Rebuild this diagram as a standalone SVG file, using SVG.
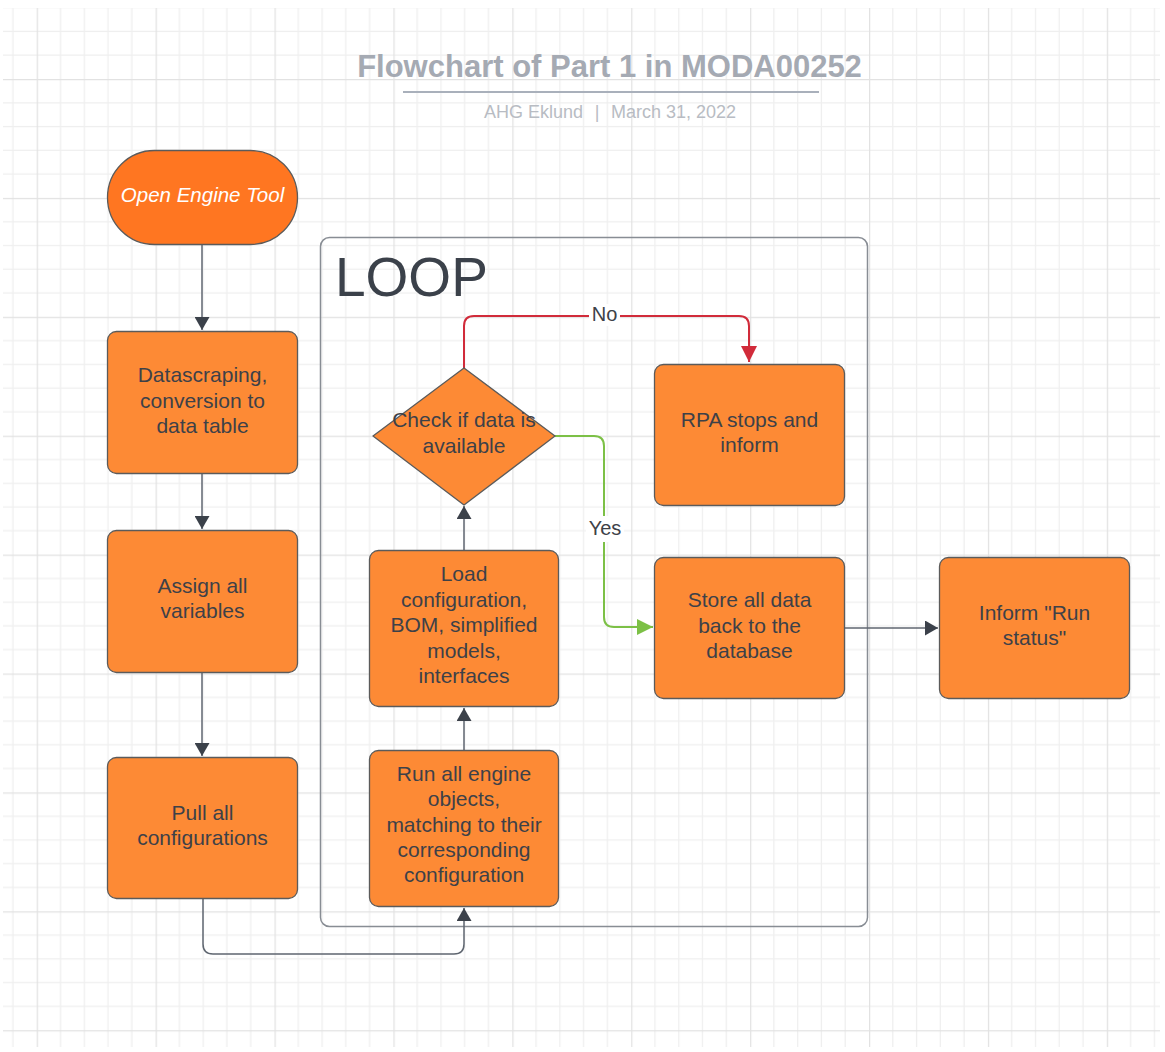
<svg xmlns="http://www.w3.org/2000/svg" width="1165" height="1052" viewBox="0 0 1165 1052">
<defs>
<pattern id="grid" patternUnits="userSpaceOnUse" x="36.7" y="79" width="118.9" height="118.9">
<g stroke="#efefef" stroke-width="1.3">
<line x1="23.78" y1="0" x2="23.78" y2="118.9"/><line x1="47.56" y1="0" x2="47.56" y2="118.9"/><line x1="71.34" y1="0" x2="71.34" y2="118.9"/><line x1="95.12" y1="0" x2="95.12" y2="118.9"/>
<line x1="0" y1="23.78" x2="118.9" y2="23.78"/><line x1="0" y1="47.56" x2="118.9" y2="47.56"/><line x1="0" y1="71.34" x2="118.9" y2="71.34"/><line x1="0" y1="95.12" x2="118.9" y2="95.12"/>
</g>
<g stroke="#e2e2e2" stroke-width="1.5">
<line x1="0.5" y1="0" x2="0.5" y2="118.9"/><line x1="0" y1="0.5" x2="118.9" y2="0.5"/>
</g>
</pattern>
<marker id="ah" viewBox="0 0 13 15" refX="13" refY="7.5" markerWidth="13" markerHeight="15" markerUnits="userSpaceOnUse" orient="auto">
<path d="M0,0 L13,7.5 L0,15 Z" fill="#3b414a"/>
</marker>
<marker id="ahr" viewBox="0 0 16 16" refX="16" refY="8" markerWidth="16" markerHeight="16" markerUnits="userSpaceOnUse" orient="auto">
<path d="M0,0 L16,8 L0,16 Z" fill="#d12b3a"/>
</marker>
<marker id="ahg" viewBox="0 0 16 16" refX="16" refY="8" markerWidth="16" markerHeight="16" markerUnits="userSpaceOnUse" orient="auto">
<path d="M0,0 L16,8 L0,16 Z" fill="#7cc046"/>
</marker>
</defs>
<style>
.box{fill:#fd8a35;stroke:#5b5b5b;stroke-width:1.3}
.t{font-family:"Liberation Sans",Arial,sans-serif;font-size:21px;fill:#3d4148;text-anchor:middle}
.c{fill:none;stroke:#5f6670;stroke-width:1.5}
.lbl{font-family:"Liberation Sans",Arial,sans-serif;font-size:20px;fill:#3d4148;text-anchor:middle}
</style>
<rect x="0" y="0" width="1165" height="1052" fill="#ffffff"/>
<rect x="3" y="8" width="1157" height="1039" fill="url(#grid)"/>

<g id="title">
<text x="609.5" y="77" font-family="Liberation Sans,Arial,sans-serif" font-size="31" font-weight="bold" fill="#a5aab3" text-anchor="middle">Flowchart of Part 1 in MODA00252</text>
<line x1="403" y1="92" x2="819" y2="92" stroke="#a9b0bb" stroke-width="2.2"/>
<text x="583" y="118" font-family="Liberation Sans,Arial,sans-serif" font-size="18" fill="#b8bcc3" text-anchor="end">AHG Eklund</text>
<text x="597" y="118" font-family="Liberation Sans,Arial,sans-serif" font-size="18" fill="#b8bcc3" text-anchor="middle">|</text>
<text x="611" y="118" font-family="Liberation Sans,Arial,sans-serif" font-size="18" fill="#b8bcc3">March 31, 2022</text>
</g>

<g id="loop">
<rect x="320.5" y="237.5" width="547" height="689" rx="9" fill="none" stroke="#888d94" stroke-width="1.5"/>
<text x="335" y="296" font-family="Liberation Sans,Arial,sans-serif" font-size="55" fill="#3b414a">LOOP</text>
</g>

<g id="connectors">
<path class="c" d="M202,245 V330" marker-end="url(#ah)"/>
<path class="c" d="M202,474 V529" marker-end="url(#ah)"/>
<path class="c" d="M202,673 V756" marker-end="url(#ah)"/>
<path class="c" d="M203,899 V944 Q203,954 213,954 H454 Q464,954 464,944 V908" marker-end="url(#ah)"/>
<path class="c" d="M464,750 V708" marker-end="url(#ah)"/>
<path class="c" d="M464,550 V506" marker-end="url(#ah)"/>
<path fill="none" stroke="#d12b3a" stroke-width="2" d="M464,368 V326 Q464,316 474,316 H739 Q749,316 749,326 V362" marker-end="url(#ahr)"/>
<path fill="none" stroke="#7cc046" stroke-width="2" d="M555,436 H594 Q604,436 604,446 V617 Q604,627 614,627 H653" marker-end="url(#ahg)"/>
<path class="c" d="M845,628 H938" marker-end="url(#ah)"/>
<rect x="589" y="304" width="31" height="22" fill="#ffffff"/>
<text class="lbl" x="604.5" y="321">No</text>
<rect x="586" y="516" width="38" height="26" fill="#ffffff"/>
<text class="lbl" x="605" y="535">Yes</text>
</g>

<g id="start">
<rect x="107.5" y="150.5" width="190" height="94" rx="47" fill="#ff7621" stroke="#5b5b5b" stroke-width="1.3"/>
<text x="202.5" y="202" font-family="Liberation Sans,Arial,sans-serif" font-size="20.5" font-style="italic" fill="#ffffff" text-anchor="middle">Open Engine Tool</text>
</g>

<g id="datascraping">
<rect class="box" x="107.5" y="331.5" width="190" height="142" rx="9"/>
<text class="t" x="202.5" y="382">Datascraping,</text>
<text class="t" x="202.5" y="407.5">conversion to</text>
<text class="t" x="202.5" y="433">data table</text>
</g>

<g id="assign">
<rect class="box" x="107.5" y="530.5" width="190" height="142" rx="9"/>
<text class="t" x="202.5" y="593">Assign all</text>
<text class="t" x="202.5" y="618">variables</text>
</g>

<g id="pull">
<rect class="box" x="107.5" y="757.5" width="190" height="141" rx="9"/>
<text class="t" x="202.5" y="820">Pull all</text>
<text class="t" x="202.5" y="845">configurations</text>
</g>

<g id="run">
<rect class="box" x="369.5" y="750.5" width="189" height="156" rx="9"/>
<text class="t" x="464" y="781">Run all engine</text>
<text class="t" x="464" y="806.3">objects,</text>
<text class="t" x="464" y="831.6">matching to their</text>
<text class="t" x="464" y="856.9">corresponding</text>
<text class="t" x="464" y="882">configuration</text>
</g>

<g id="load">
<rect class="box" x="369.5" y="550.5" width="189" height="156" rx="9"/>
<text class="t" x="464" y="581">Load</text>
<text class="t" x="464" y="606.5">configuration,</text>
<text class="t" x="464" y="632">BOM, simplified</text>
<text class="t" x="464" y="657.5">models,</text>
<text class="t" x="464" y="683">interfaces</text>
</g>

<g id="check">
<path d="M464,368 L555,436 L464,505 L373,436 Z" fill="#fd8a35" stroke="#5b5b5b" stroke-width="1.3" stroke-linejoin="round"/>
<text class="t" x="464" y="427">Check if data is</text>
<text class="t" x="464" y="453">available</text>
</g>

<g id="rpa">
<rect class="box" x="654.5" y="364.5" width="190" height="141" rx="9"/>
<text class="t" x="749.5" y="427">RPA stops and</text>
<text class="t" x="749.5" y="452">inform</text>
</g>

<g id="store">
<rect class="box" x="654.5" y="557.5" width="190" height="141" rx="9"/>
<text class="t" x="749.5" y="607">Store all data</text>
<text class="t" x="749.5" y="632.5">back to the</text>
<text class="t" x="749.5" y="658">database</text>
</g>

<g id="inform">
<rect class="box" x="939.5" y="557.5" width="190" height="141" rx="9"/>
<text class="t" x="1034.5" y="620">Inform "Run</text>
<text class="t" x="1034.5" y="645">status"</text>
</g>
</svg>
